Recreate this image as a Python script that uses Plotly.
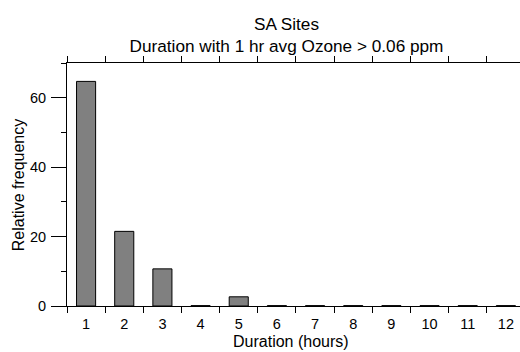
import plotly.graph_objects as go

# Data
durations = ["1", "2", "3", "4", "5", "6", "7", "8", "9", "10", "11", "12"]
rel_freq = [64.7, 21.5, 10.7, 0.1, 2.65, 0.1, 0.1, 0.1, 0.1, 0.1, 0.1, 0.1]
title_lines = ["SA Sites", "Duration with 1 hr avg Ozone > 0.06 ppm"]
x_title = "Duration (hours)"
y_title = "Relative frequency"

FONT = "Liberation Sans, Arial, Helvetica, sans-serif"

W, H = 520, 352
L, R, T, B = 67.3, 0, 63.3, 45.5
pw, ph = W - L - R, H - T - B


def px(xp):
    return (xp - L) / pw


def py(yp):
    return (H - B - yp) / ph


fig = go.Figure()
fig.add_trace(go.Bar(
    x=durations, y=rel_freq, width=0.5,
    marker=dict(color="#808080", line=dict(color="black", width=1)),
))

fig.update_layout(
    width=W, height=H,
    margin=dict(l=L, r=R, t=T, b=B, pad=0),
    paper_bgcolor="white", plot_bgcolor="white",
    font=dict(family=FONT, color="black", size=14.5),
    showlegend=False,
    title=dict(
        text="<br>".join(title_lines),
        xref="container", yref="container",
        x=286.5 / W, y=1 - 29.5 / H,
        xanchor="center", yanchor="middle",
        font=dict(size=17.2, color="black"),
    ),
    xaxis=dict(
        type="category", range=[-0.5, 11.37],
        tickson="boundaries", ticks="outside", ticklen=6, tickwidth=1,
        tickcolor="black", showline=True, linecolor="black", linewidth=1,
        mirror="ticks", showgrid=False, zeroline=False,
        ticklabelstandoff=5,
        tickfont=dict(size=14.5),
    ),
    yaxis=dict(
        range=[0, 70], tickvals=[0, 20, 40, 60], ticks="outside", ticklen=15,
        tickwidth=1, tickcolor="black", showline=True, linecolor="black",
        linewidth=1, showgrid=False, zeroline=False,
        ticklabelstandoff=2,
        minor=dict(dtick=10, ticks="outside", ticklen=5, tickcolor="black",
                   tickwidth=1, showgrid=False),
        tickfont=dict(size=14.5),
    ),
    annotations=[
        dict(text=x_title, xref="paper", yref="paper", x=px(291.5), y=py(342),
             showarrow=False, xanchor="center", yanchor="middle",
             font=dict(size=16)),
        dict(text=y_title, xref="paper", yref="paper", x=px(19), y=py(185),
             showarrow=False, xanchor="center", yanchor="middle", textangle=-90,
             font=dict(size=16)),
    ],
)

fig.write_html("out.html")
